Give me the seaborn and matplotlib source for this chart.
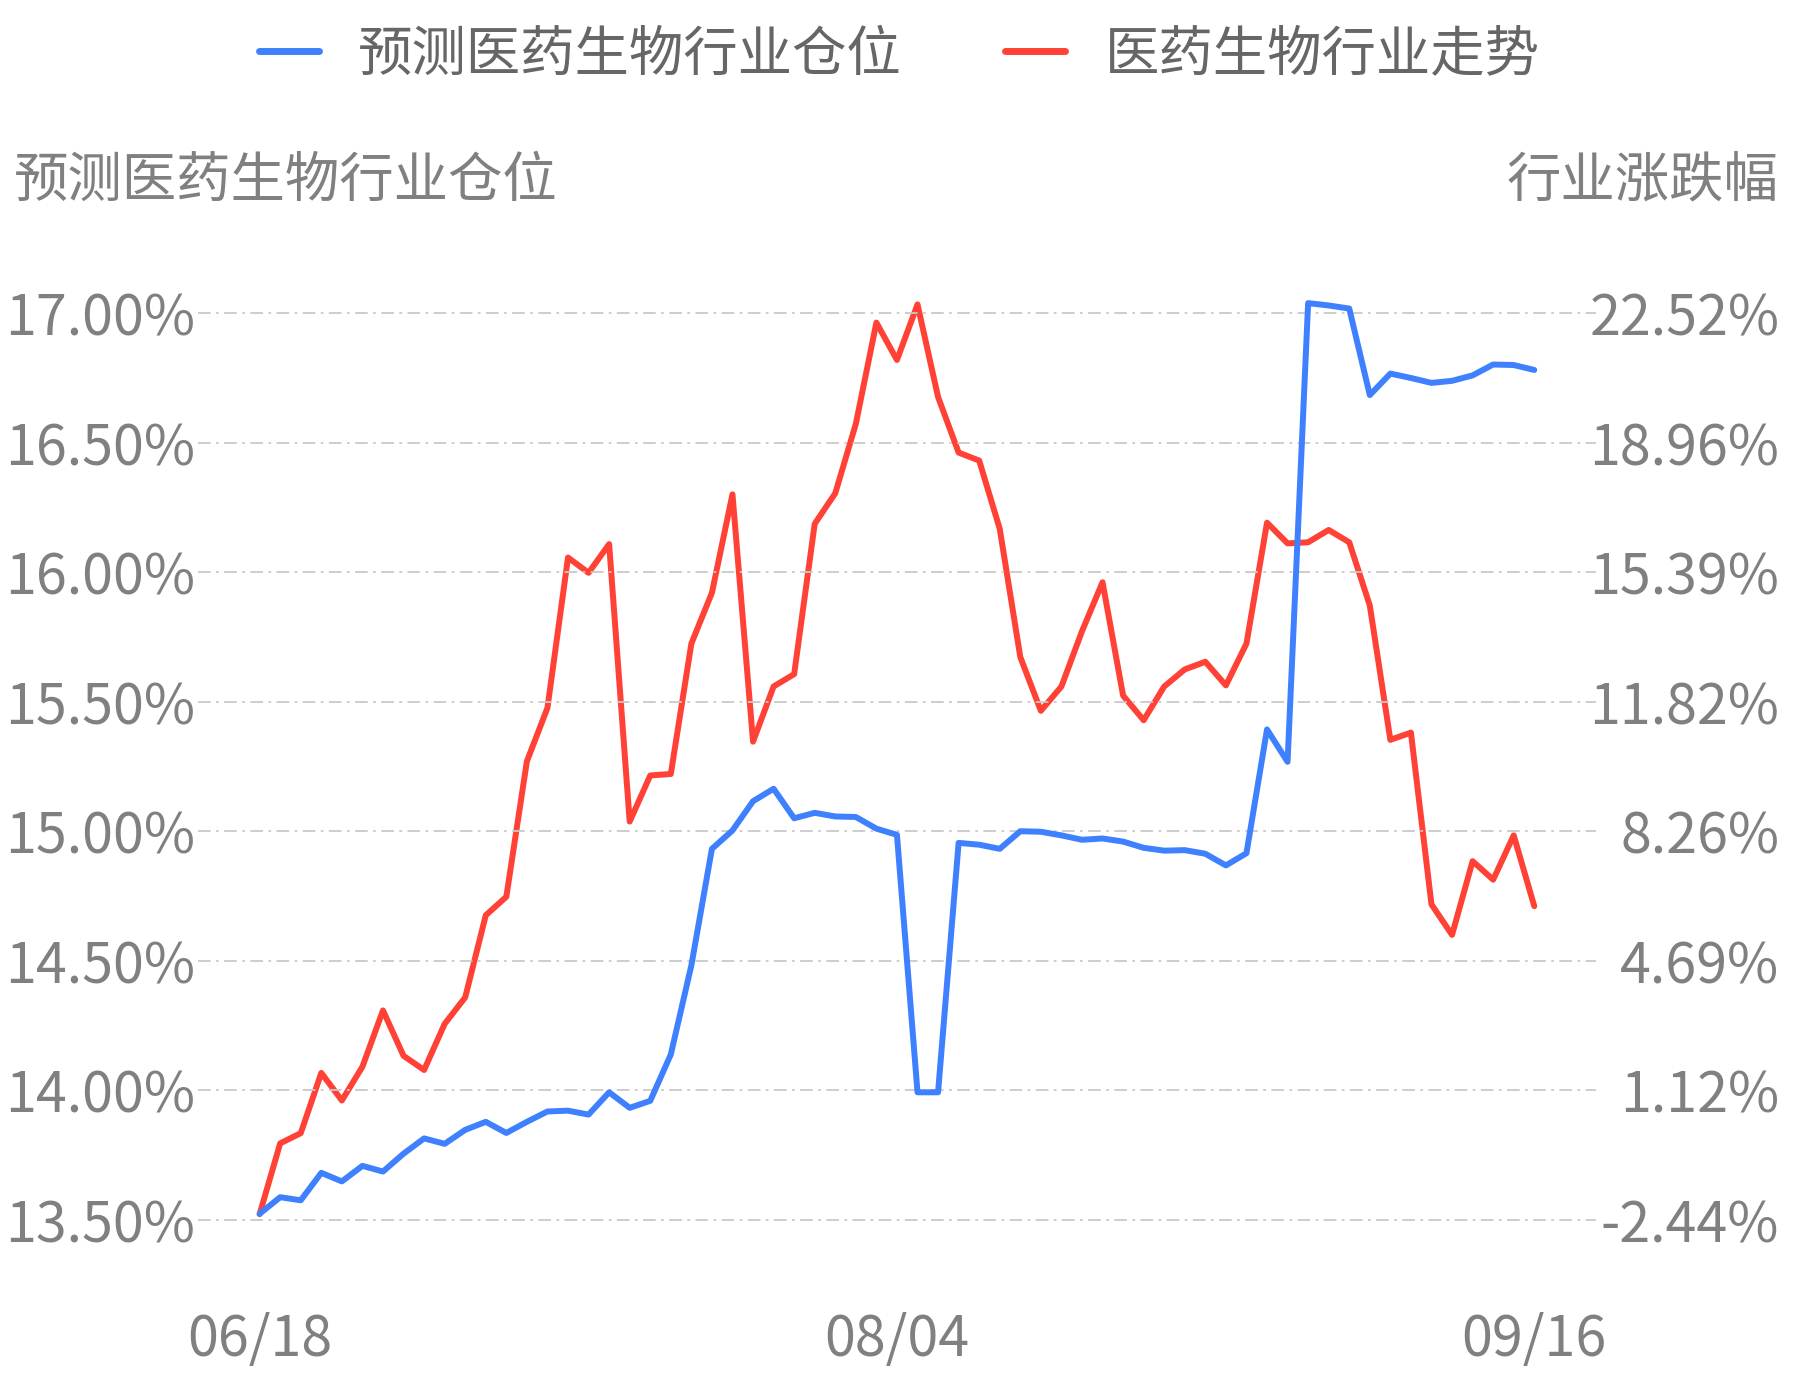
import matplotlib
matplotlib.use("Agg")
import matplotlib.pyplot as plt
import seaborn as sns
import pandas as pd
import numpy as np

# ---- data ----
x_labels = ["06/18", "08/04", "09/16"]
x_label_pos = [0, 31, 62]

position = [13.524, 13.588, 13.576, 13.682, 13.649, 13.709, 13.687, 13.756, 13.815, 13.794,
            13.848, 13.879, 13.836, 13.879, 13.919, 13.922, 13.907, 13.993, 13.933, 13.960,
            14.139, 14.483, 14.933, 15.004, 15.117, 15.165, 15.051, 15.072, 15.058, 15.056,
            15.011, 14.987, 13.993, 13.993, 14.956, 14.949, 14.933, 15.001, 14.999, 14.985,
            14.968, 14.973, 14.961, 14.937, 14.926, 14.928, 14.914, 14.869, 14.916, 15.394,
            15.269, 17.040, 17.031, 17.019, 16.685, 16.768, 16.751, 16.732, 16.740, 16.761,
            16.803, 16.801, 16.782]

trend = [-2.28, -0.33, -0.05, 1.61, 0.85, 1.78, 3.33, 2.08, 1.69, 2.96,
         3.69, 5.95, 6.46, 10.19, 11.66, 15.80, 15.38, 16.17, 8.53, 9.80,
         9.84, 13.43, 14.83, 17.54, 10.73, 12.25, 12.59, 16.73, 17.57, 19.48,
         22.27, 21.24, 22.77, 20.22, 18.69, 18.47, 16.59, 13.06, 11.58, 12.25,
         13.77, 15.12, 12.00, 11.32, 12.25, 12.72, 12.93, 12.28, 13.43, 16.76,
         16.19, 16.22, 16.56, 16.22, 14.48, 10.78, 10.98, 6.25, 5.41, 7.44,
         6.93, 8.15, 6.20]

left_ticks = [13.50, 14.00, 14.50, 15.00, 15.50, 16.00, 16.50, 17.00]
right_ticks = [-2.44, 1.12, 4.69, 8.26, 11.82, 15.39, 18.96, 22.52]

name_pos = "预测医药生物行业仓位"
name_trend = "医药生物行业走势"
right_title = "行业涨跌幅"

BLUE = "#3f80ff"
RED = "#ff4136"
GRID = "#c9c9c9"
TICK = "#808080"
LEG = "#666666"

sns.set_theme(style="white")
plt.rcParams["font.family"] = ["Noto Sans CJK SC", "DejaVu Sans"]
plt.rcParams["axes.unicode_minus"] = False

df = pd.DataFrame({"idx": np.arange(len(position)), "pos": position, "trend": trend})

fig = plt.figure(figsize=(17.93, 13.80), dpi=100)
ax = fig.add_axes([0.1104, 0.1122, 0.7797, 0.6794])
ax2 = ax.twinx()

FS = 40
FS_T = 39.2
lw = 4.3

sns.lineplot(data=df, x="idx", y="trend", ax=ax2, color=RED, linewidth=lw, label=name_trend,
             legend=False, zorder=3)
sns.lineplot(data=df, x="idx", y="pos", ax=ax, color=BLUE, linewidth=lw, label=name_pos,
             legend=False, zorder=3)
ax.set_zorder(ax2.get_zorder() + 1)
ax.patch.set_visible(False)

ylo, yhi = 13.48, 17.10
ax.set_ylim(ylo, yhi)
k = (right_ticks[-1] - right_ticks[0]) / (left_ticks[-1] - left_ticks[0])
ax2.set_ylim(right_ticks[0] + (ylo - left_ticks[0]) * k, right_ticks[0] + (yhi - left_ticks[0]) * k)
ax.set_xlim(-3, 65)

for yv in left_ticks:
    ax.axhline(yv, color=GRID, linewidth=1.3, dashes=(7, 3, 1.5, 3), zorder=1)

ax.set_yticks(left_ticks)
ax.set_yticklabels([f"{v:.2f}%" for v in left_ticks])
ax2.set_yticks(right_ticks)
ax2.set_yticklabels([f"{v:.2f}%" for v in right_ticks])
ax.set_xticks(x_label_pos)
ax.set_xticklabels(x_labels)

ax.tick_params(axis="y", labelsize=FS, colors=TICK, length=0, pad=2)
ax2.tick_params(axis="y", labelsize=FS, colors=TICK, length=0, pad=132)
for t in ax2.get_yticklabels():
    t.set_horizontalalignment("right")
ax.tick_params(axis="x", labelsize=FS, colors=TICK, length=0, pad=62)
ax.set_xlabel("")
ax.set_ylabel("")
ax2.set_ylabel("")
ax.grid(False)
ax2.grid(False)
for a in (ax, ax2):
    for s in a.spines.values():
        s.set_visible(False)

fig.text(0.0078, 1 - 181 / 1380, name_pos, fontsize=FS_T, color=TICK, ha="left", va="center")
fig.text(0.9917, 1 - 181 / 1380, right_title, fontsize=FS_T, color=TICK, ha="right", va="center")

h1, l1 = ax.get_legend_handles_labels()
h2, l2 = ax2.get_legend_handles_labels()
leg = fig.legend(h1 + h2, l1 + l2, loc="center", bbox_to_anchor=(0.5015, 1 - 55 / 1380), ncol=2,
                 frameon=False, fontsize=FS_T, handlelength=1.1, handletextpad=0.72,
                 columnspacing=1.9, labelcolor=LEG)
for line in leg.get_lines():
    line.set_linewidth(5.0)
    line.set_solid_capstyle("round")

fig.savefig("out.png", dpi=100, facecolor="white")
